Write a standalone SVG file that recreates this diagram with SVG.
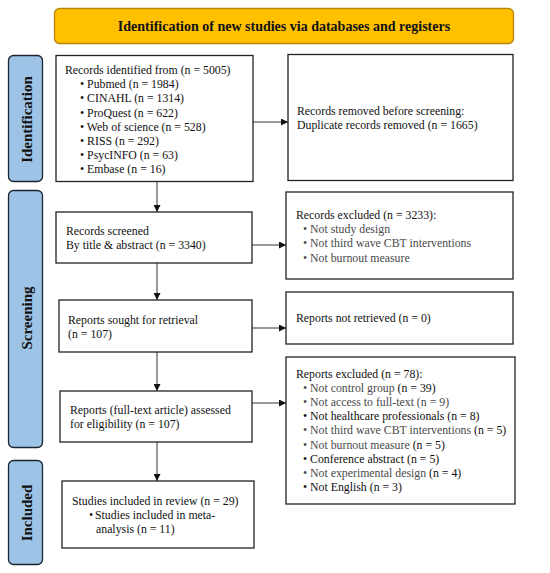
<svg xmlns="http://www.w3.org/2000/svg" width="550" height="573" viewBox="0 0 550 573" font-family="'Liberation Serif', 'Times New Roman', serif">
<defs>
<style>
text{font-family:'Liberation Serif','Times New Roman',Times,serif;font-size:11.8px;fill:#111}
.g{fill:#4a4a4a}
.box{fill:#fff;stroke:#222;stroke-width:1.3}
.side{fill:#9DC3E6;stroke:#1c2430;stroke-width:1.3}
.sl{font-size:15px;font-weight:bold;text-anchor:middle;dominant-baseline:central}
.ln{stroke:#333;stroke-width:1;fill:none}
</style>
<marker id="ah" viewBox="0 0 10 10" refX="10" refY="5" markerWidth="7" markerHeight="7" markerUnits="userSpaceOnUse" orient="auto">
<path d="M0,0 L10,5 L0,10 z" fill="#111"/>
</marker>
</defs>
<rect width="550" height="573" fill="#fff"/>

<g id="title">
<rect x="54.5" y="8.5" width="459" height="35" rx="5" fill="#FFC000" stroke="#B8860B" stroke-width="1.3"/>
<text x="284" y="31" text-anchor="middle" style="font-size:14px;font-weight:bold">Identification of new studies via databases and registers</text>
</g>

<g id="side-identification">
<rect class="side" x="8.5" y="55.5" width="34" height="126" rx="5"/>
<text class="sl" transform="translate(26.5,119.5) rotate(-90)">Identification</text>
</g>
<g id="side-screening">
<rect class="side" x="8.5" y="190.5" width="34" height="257" rx="5"/>
<text class="sl" transform="translate(26.5,318) rotate(-90)">Screening</text>
</g>
<g id="side-included">
<rect class="side" x="8.5" y="460.5" width="34" height="104" rx="5"/>
<text class="sl" transform="translate(26.5,513) rotate(-90)">Included</text>
</g>

<g id="connectors">
<line class="ln" x1="157" y1="181" x2="157" y2="212" marker-end="url(#ah)"/>
<line class="ln" x1="157" y1="263" x2="157" y2="300" marker-end="url(#ah)"/>
<line class="ln" x1="157" y1="352" x2="157" y2="391" marker-end="url(#ah)"/>
<line class="ln" x1="157" y1="442" x2="157" y2="481" marker-end="url(#ah)"/>
<line class="ln" x1="253" y1="122" x2="288" y2="122" marker-end="url(#ah)"/>
<line class="ln" x1="252" y1="245" x2="286" y2="245" marker-end="url(#ah)"/>
<line class="ln" x1="252" y1="328" x2="286" y2="328" marker-end="url(#ah)"/>
<line class="ln" x1="252" y1="403" x2="286" y2="403" marker-end="url(#ah)"/>
</g>

<g id="records-identified">
<rect class="box" x="56" y="55.5" width="197" height="126"/>
<text x="65" y="74">Records identified from (n = 5005)</text>
<text x="80" y="88.2">• Pubmed (n = 1984)</text>
<text x="80" y="102.4">• CINAHL (n = 1314)</text>
<text x="80" y="116.6">• ProQuest (n = 622)</text>
<text x="80" y="130.8">• Web of science (n = 528)</text>
<text x="80" y="145">• RISS (n = 292)</text>
<text x="80" y="159.2">• PsycINFO (n = 63)</text>
<text x="80" y="173.4">• Embase (n = 16)</text>
</g>

<g id="records-removed">
<rect class="box" x="288" y="54.5" width="225" height="126"/>
<text x="297" y="115">Records removed before screening:</text>
<text x="297" y="129.2">Duplicate records removed (n = 1665)</text>
</g>

<g id="records-screened">
<rect class="box" x="56" y="212" width="196" height="51"/>
<text x="66" y="235">Records screened</text>
<text x="66" y="249.2">By title &amp; abstract (n = 3340)</text>
</g>

<g id="records-excluded">
<rect class="box" x="286" y="192" width="227" height="87"/>
<text x="296" y="219">Records excluded (n = 3233):</text>
<text x="303" y="233.2" class="g">• Not study design</text>
<text x="303" y="247.4" class="g">• Not third wave CBT interventions</text>
<text x="303" y="261.6" class="g">• Not burnout measure</text>
</g>

<g id="reports-sought">
<rect class="box" x="59" y="300" width="193" height="52"/>
<text x="68" y="323.5">Reports sought for retrieval</text>
<text x="68" y="337.7">(n = 107)</text>
</g>

<g id="reports-not-retrieved">
<rect class="box" x="286" y="292" width="227" height="52"/>
<text x="296" y="322">Reports not retrieved (n = 0)</text>
</g>

<g id="reports-assessed">
<rect class="box" x="60" y="391" width="192" height="51"/>
<text x="70" y="413.5">Reports (full-text article) assessed</text>
<text x="70" y="427.7">for eligibility (n = 107)</text>
</g>

<g id="reports-excluded">
<rect class="box" x="286" y="357" width="229" height="147"/>
<text x="296" y="377.5">Reports excluded (n = 78):</text>
<text x="303" y="391.7"><tspan class="g">• Not control group </tspan>(n = 39)</text>
<text x="303" y="405.9" class="g">• Not access to full-text (n = 9)</text>
<text x="303" y="420.1">• Not healthcare professionals (n = 8)</text>
<text x="303" y="434.3"><tspan class="g">• Not third wave CBT interventions </tspan>(n = 5)</text>
<text x="303" y="448.5"><tspan class="g">• Not burnout measure </tspan>(n = 5)</text>
<text x="303" y="462.7">• Conference abstract (n = 5)</text>
<text x="303" y="476.9"><tspan class="g">• Not experimental design </tspan>(n = 4)</text>
<text x="303" y="491.1">• Not English (n = 3)</text>
</g>

<g id="studies-included">
<rect class="box" x="62" y="481" width="192" height="67"/>
<text x="72" y="505">Studies included in review (n = 29)</text>
<text x="89" y="519.2">• </text>
<text x="95" y="519.2">Studies included in meta-</text>
<text x="96" y="533.4">analysis (n = 11)</text>
</g>
</svg>
